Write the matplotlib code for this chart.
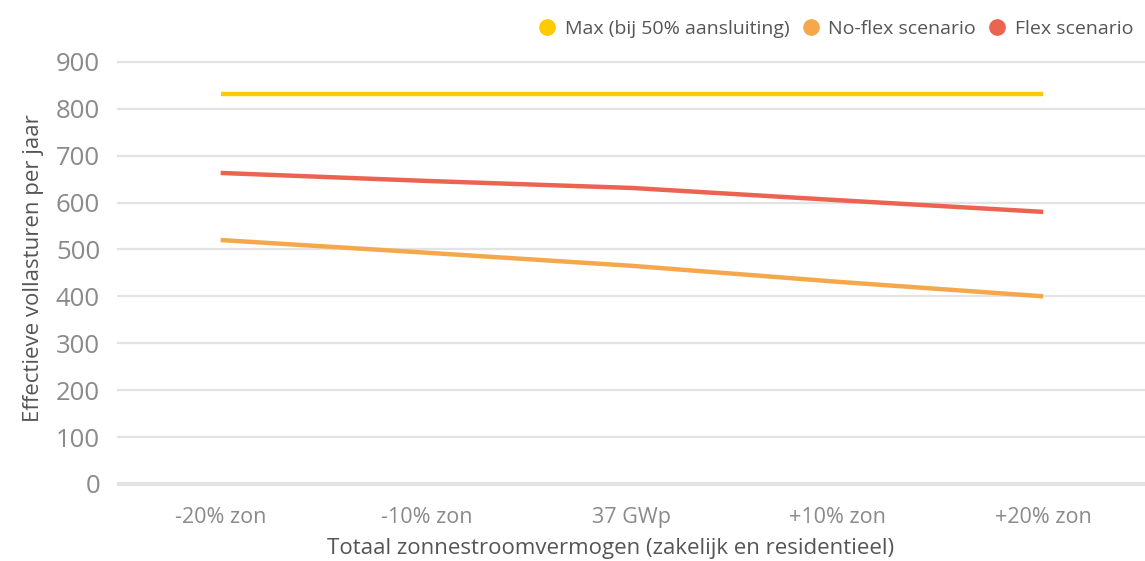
import matplotlib.pyplot as plt
from matplotlib.lines import Line2D

plt.rcParams['font.family'] = ['Open Sans', 'DejaVu Sans']

# scenario categories on the x axis
categories = ['-20% zon', '-10% zon', '37 GWp', '+10% zon', '+20% zon']

# effective full-load hours per year
max_50pct = [831, 831, 831, 831, 831]
no_flex = [520, 493, 465, 431, 400]
flex = [663, 646, 631, 605, 580]

series_names = ['Max (bij 50% aansluiting)', 'No-flex scenario', 'Flex scenario']
colors = ['#FFCA00', '#F5A84B', '#EC6351']
yticks = [0, 100, 200, 300, 400, 500, 600, 700, 800, 900]

fig = plt.figure(figsize=(11.45, 5.61), dpi=100)
ax = fig.add_axes([0.102, 0.1306, 0.898, 0.766])

x = list(range(len(categories)))

# horizontal grid, heavier baseline at zero
for v in yticks:
    ax.axhline(v, color='#e3e3e3', lw=3.0 if v == 0 else 1.6, zorder=0)

for vals, c in zip([max_50pct, no_flex, flex], colors):
    ax.plot(x, vals, color=c, lw=3.2, solid_capstyle='butt', zorder=3)

ax.set_xlim(-0.505, 4.495)
ax.set_ylim(-8, 908)
ax.set_yticks(yticks)
ax.set_xticks(x)
ax.set_xticklabels(categories)
ax.tick_params(axis='y', length=0, pad=12, labelsize=18.5, labelcolor='#8a8a8a')
ax.tick_params(axis='x', length=0, pad=14, labelsize=15.5, labelcolor='#8a8a8a')
for s in ax.spines.values():
    s.set_visible(False)

ax.set_ylabel('Effectieve vollasturen per jaar', fontsize=16, color='#555555')
ax.set_xlabel('Totaal zonnestroomvermogen (zakelijk en residentieel)', fontsize=16,
              color='#555555')
ax.yaxis.set_label_coords(-0.071, 0.51)
ax.xaxis.set_label_coords(0.48, -0.116)

handles = [Line2D([], [], marker='o', ls='none', color=c, markersize=11) for c in colors]
fig.legend(handles, series_names, loc='upper right', bbox_to_anchor=(1.005, 0.995),
           ncol=3, frameon=False, fontsize=14, labelcolor='#555555',
           handletextpad=0.3, columnspacing=0.5, handlelength=1.2)

fig.savefig('out.png', dpi=100)
